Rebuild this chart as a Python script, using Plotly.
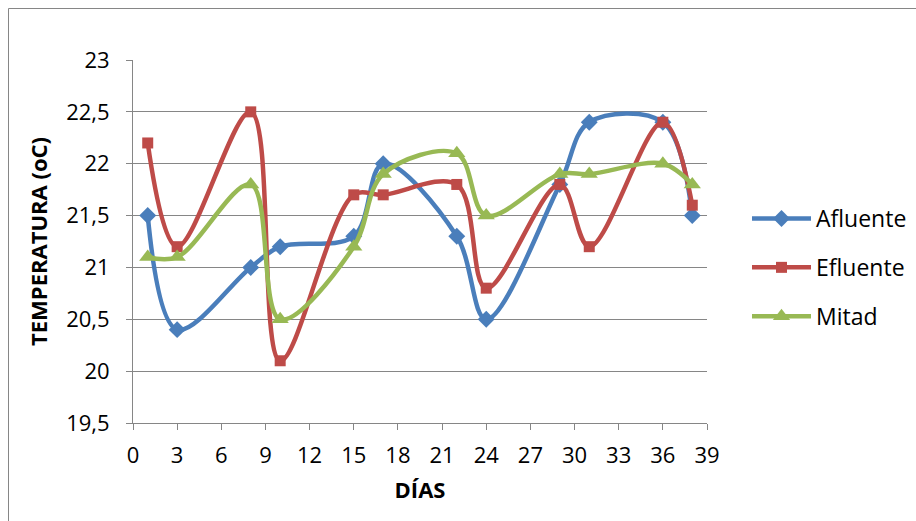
import plotly.graph_objects as go

dias = [1, 3, 8, 10, 15, 17, 22, 24, 29, 31, 36, 38]
afluente = [21.5, 20.4, 21.0, 21.2, 21.3, 22.0, 21.3, 20.5, 21.8, 22.4, 22.4, 21.5]
efluente = [22.2, 21.2, 22.5, 20.1, 21.7, 21.7, 21.8, 20.8, 21.8, 21.2, 22.4, 21.6]
mitad = [21.1, 21.1, 21.8, 20.5, 21.2, 21.9, 22.1, 21.5, 21.9, 21.9, 22.0, 21.8]

x_ticks = list(range(0, 40, 3))
y_ticks = [19.5, 20, 20.5, 21, 21.5, 22, 22.5, 23]

FONT = "Open Sans, Liberation Sans, sans-serif"

series = [
    ("Afluente", afluente, "#4A7EBB", "diamond", 13),
    ("Efluente", efluente, "#BE4B48", "square", 11),
    ("Mitad", mitad, "#98B954", "triangle-up", 15),
]

fig = go.Figure()
for i, (name, vals, color, sym, size) in enumerate(series):
    fig.add_trace(go.Scatter(
        x=dias, y=vals, name=name, mode="lines+markers",
        line=dict(color=color, width=4.5, shape="spline", smoothing=1),
        marker=dict(symbol=sym, size=size, color=color),
        legendgroup=name,
    ))

L, R, T, B = 133, 209, 60, 98
W, H = 916, 521
pw, ph = W - L - R, H - T - B

def px_x(p):
    return (p - L) / pw

def px_y(q):
    return (H - B - q) / ph

fig.update_layout(
    width=W, height=H,
    margin=dict(l=L, r=R, t=T, b=B, autoexpand=False),
    paper_bgcolor="white", plot_bgcolor="white",
    separators=",.",
    font=dict(family=FONT, size=22, color="black"),
    showlegend=True,
    legend=dict(
        x=px_x(747), y=px_y(197), xanchor="left", yanchor="top",
        font=dict(size=23), tracegroupgap=16, itemwidth=59,
        bgcolor="rgba(0,0,0,0)",
    ),
    xaxis=dict(
        range=[0, 39], tickvals=x_ticks, showgrid=False, zeroline=False,
        showline=True, linecolor="#868686", linewidth=1,
        ticks="outside", ticklen=6, tickcolor="#868686",
        tickfont=dict(size=22), ticklabelstandoff=7, automargin=False,
        title=dict(text="<b>DÍAS</b>", font=dict(size=22), standoff=14),
    ),
    yaxis=dict(
        range=[19.5, 23], tickvals=y_ticks, showgrid=True, gridcolor="#868686",
        gridwidth=1, zeroline=False, showline=True, linecolor="#868686",
        linewidth=1, ticks="outside", ticklen=6, tickcolor="#868686",
        tickfont=dict(size=22), ticklabelstandoff=12, automargin=False,
        title=dict(text="<b>TEMPERATURA (oC)</b>", font=dict(size=22), standoff=12),
    ),
    shapes=[dict(
        type="rect", xref="paper", yref="paper",
        x0=px_x(8.5), x1=px_x(W + 20), y0=px_y(H + 20), y1=px_y(8.5),
        line=dict(color="#868686", width=1), fillcolor="rgba(0,0,0,0)",
        layer="below",
    )],
)

fig.write_html("out.html")
